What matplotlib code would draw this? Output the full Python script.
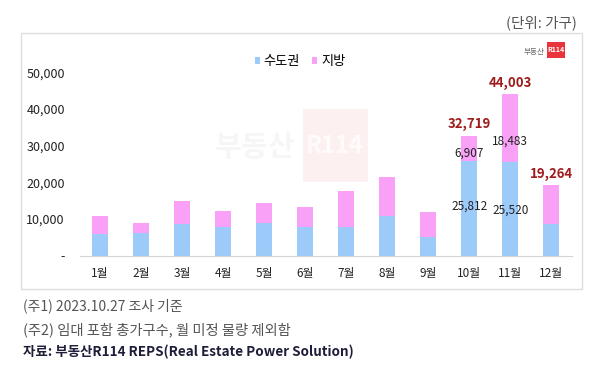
import matplotlib
matplotlib.use("Agg")
import matplotlib.pyplot as plt
from matplotlib.patches import Rectangle
import numpy as np

plt.rcParams['font.family'] = ['Noto Sans CJK KR', 'DejaVu Sans']

months = ['1월', '2월', '3월', '4월', '5월', '6월', '7월', '8월', '9월', '10월', '11월', '12월']
capital = [5800, 6250, 8650, 7800, 9000, 7750, 7750, 10900, 5100, 25812, 25520, 8500]
totals = [10900, 8830, 14900, 12200, 14400, 13300, 17650, 21400, 11800, 32719, 44003, 19264]
regional = [t - c for t, c in zip(totals, capital)]
yticks = [0, 10000, 20000, 30000, 40000, 50000]
ytick_labels = ['-', '10,000', '20,000', '30,000', '40,000', '50,000']
total_labels = {9: '32,719', 10: '44,003', 11: '19,264'}
capital_labels = {9: '25,812', 10: '25,520'}
regional_labels = {9: '6,907', 10: '18,483'}

W, H = 600, 367
fig = plt.figure(figsize=(6, 3.67), dpi=100)
fig.patch.set_facecolor('white')

def fx(px): return px / W
def fy(py): return 1 - py / H

# frame box
fig.patches.append(Rectangle((fx(21), fy(289)), fx(582) - fx(21), fy(33) - fy(289),
                             transform=fig.transFigure, facecolor='none',
                             edgecolor='#dedede', linewidth=1.0))

# watermark
fig.text(fx(255), fy(147), '부동산', fontsize=21, fontweight='bold', color='#f6f6f6',
         ha='center', va='center', zorder=0)
fig.patches.append(Rectangle((fx(303), fy(182)), fx(368) - fx(303), fy(109) - fy(182),
                             transform=fig.transFigure, facecolor='#fdf0f0',
                             edgecolor='none', zorder=0))
fig.text(fx(335), fy(146), 'R114', fontsize=17, fontweight='bold', color='#fffbfb',
         ha='center', va='center', zorder=0)

ax = fig.add_axes([fx(79.5), fy(255.5), fx(571.8) - fx(79.5), fy(72.5) - fy(255.5)])
ax.set_facecolor('none')
x = np.arange(len(months))
blue = '#9ccbfa'
pink = '#f9a0f7'
ax.bar(x, capital, width=0.39, color=blue, label='수도권', zorder=2)
ax.bar(x, regional, width=0.39, bottom=capital, color=pink, label='지방', zorder=2)

ax.set_xlim(-0.5, 11.5)
ax.set_ylim(0, 50000)
ax.set_yticks(yticks)
ax.set_yticklabels(ytick_labels, fontsize=9, color='#222222')
ax.set_xticks(x)
ax.set_xticklabels(months, fontsize=8.5, color='#222222')
ax.tick_params(axis='y', length=0, pad=10.5)
ax.tick_params(axis='x', length=0, pad=8)
for s in ['top', 'right', 'left']:
    ax.spines[s].set_visible(False)
ax.spines['bottom'].set_color('#d4d4d4')
ax.spines['bottom'].set_linewidth(0.8)

for i, lab in total_labels.items():
    ax.text(x[i], totals[i] + 1200, lab, ha='center', va='bottom', fontsize=9.5,
            fontweight='bold', color='#9e1c1c', clip_on=False)
ax.text(x[9], 13600, capital_labels[9], ha='center', va='center', fontsize=8.5, color='#222222')
ax.text(x[10], 12300, capital_labels[10], ha='center', va='center', fontsize=8.5, color='#222222')
ax.text(x[9], 28100, regional_labels[9], ha='center', va='center', fontsize=8.5, color='#222222')
ax.text(x[10], 31200, regional_labels[10], ha='center', va='center', fontsize=8.5, color='#222222')

fig.legend(loc='center', bbox_to_anchor=(fx(300), fy(62)), ncol=2, frameon=False,
           fontsize=9.5, handlelength=0.4, handleheight=0.4, handletextpad=0.3,
           columnspacing=0.9)

# unit
fig.text(fx(577), fy(22.5), '(단위: 가구)', ha='right', va='center', fontsize=10.5, color='#555555')

# logo
fig.text(fx(545), fy(52), '부동산', ha='right', va='center', fontsize=5.5, color='#666666')
fig.patches.append(Rectangle((fx(547), fy(58)), fx(565) - fx(547), fy(42) - fy(58),
                             transform=fig.transFigure, facecolor='#e8343a', edgecolor='none'))
fig.text(fx(556), fy(50), 'R114', ha='center', va='center', fontsize=5,
         color='white', fontweight='bold')

# footnotes
fig.text(fx(23), fy(306), '(주1) 2023.10.27 조사 기준', ha='left', va='center', fontsize=10, color='#555555')
fig.text(fx(23), fy(330), '(주2) 임대 포함 총가구수, 월 미정 물량 제외함', ha='left', va='center', fontsize=10.3, color='#555555')
fig.text(fx(23), fy(352), '자료: 부동산R114 REPS(Real Estate Power Solution)', ha='left', va='center',
         fontsize=9.7, fontweight='bold', color='#1e1e3a')

fig.savefig('out.png', dpi=100)
